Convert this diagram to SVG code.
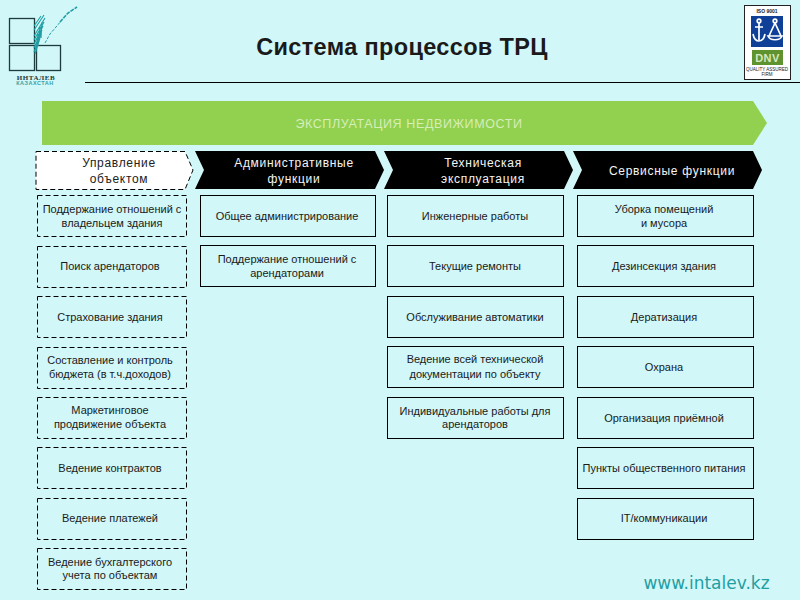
<svg xmlns="http://www.w3.org/2000/svg" width="800" height="600" viewBox="0 0 800 600">
<style>
text{font-family:"Liberation Sans",Arial,sans-serif;text-anchor:middle;fill:#1a1a1a}
.b{fill:none;stroke:#000;stroke-width:1}
.d{fill:none;stroke:#000;stroke-width:1;stroke-dasharray:5 3}
.t{font-size:11px}
.h{font-size:12px;letter-spacing:.7px;fill:#f4f4f4}
.k{fill:#000}
</style>
<rect width="800" height="600" fill="#d1f7f9"/>
<g id="logo">
<g fill="none" stroke="#1d3a3c" stroke-width="1.300"><rect x="9.500" y="18.500" width="25" height="25"/><rect x="9.500" y="45.500" width="25" height="25"/><rect x="36.500" y="45.500" width="24" height="25"/></g>
<g fill="none" stroke="#1f9ea3" stroke-width="1.100"><path d="M34 30L44 15M34 36L45 18M34 40L44 22M34 44L43 26M34 48L42 30M34 52L41 34M35 54L40 38M34 26L41 16M36 52L38 34M38 46L40 26M41 38L42 22"/></g>
<path d="M45 43L50 34L56 27L62 20" fill="none" stroke="#1f9ea3" stroke-width="1" stroke-dasharray="3 1.500"/>
<path d="M60 22L68 13L77 7" fill="none" stroke="#1f9ea3" stroke-width="1.600" stroke-dasharray="4 1"/>
<text x="36" y="79.500" style="font-family:'Liberation Serif',serif;font-size:7px;font-weight:bold;letter-spacing:.5px;fill:#1d3a3c">ИНТАЛЕВ</text>
<text x="35" y="85" style="font-size:5.500px;font-weight:bold;letter-spacing:.5px;fill:#3a9ea3">КАЗАХСТАН</text>
</g>
<g id="cert">
<rect x="744.500" y="5.500" width="46" height="74" fill="#fff" stroke="#222" stroke-width="1"/>
<text x="767" y="13" style="font-size:5px;font-weight:bold">ISO 9001</text>
<rect x="751" y="16" width="32" height="31" fill="#0f3f97"/>
<g fill="none" stroke="#fff" stroke-width="1.700"><circle cx="759" cy="21" r="1.800"/><path d="M759 23V40M755 27H763M753 34C754 39 756 41 759 41C762 41 764 39 765 34"/><circle cx="775" cy="21" r="1.800"/><path d="M775 23L769 36M775 23L781 36M768 36C770 41 780 41 782 36Z"/></g>
<rect x="752" y="50" width="31" height="15" fill="#5f9330"/>
<text x="767.500" y="62" style="font-size:11px;font-weight:bold;letter-spacing:.5px;fill:#d8e8c0">DNV</text>
<text x="767" y="71" style="font-size:4.500px">QUALITY ASSURED</text>
<text x="767" y="76" style="font-size:4.500px">FIRM</text>
</g>
<g id="title"><text x="402" y="54.500" style="font-size:23.500px;font-weight:bold;letter-spacing:.35px">Система процессов ТРЦ</text></g>
<line x1="85" y1="82.500" x2="800" y2="82.500" stroke="#000" stroke-width="1"/>
<g id="band"><polygon points="42,101 753,101 767,123 753,145 42,145" fill="#92d050"/><text x="409" y="128" style="font-size:12.500px;letter-spacing:.6px;fill:#d6eeb8">ЭКСПЛУАТАЦИЯ НЕДВИЖИМОСТИ</text></g>
<g id="h1"><polygon points="36,151.500 185,151.500 193,170 185,189.500 36,189.500" fill="#fff" stroke="#000" stroke-dasharray="5 3"/><text class="h" x="119" y="167" style="fill:#222">Управление</text><text class="h" x="119" y="183" style="fill:#222">объектом</text></g>
<g id="h2"><polygon class="k" points="195,151 375,151 384,170 375,189 195,189 204,170"/><text class="h" x="294" y="167">Административные</text><text class="h" x="294" y="183">функции</text></g>
<g id="h3"><polygon class="k" points="384,151 564,151 573,170 564,189 384,189 393,170"/><text class="h" x="483" y="167">Техническая</text><text class="h" x="483" y="183">эксплуатация</text></g>
<g id="h4"><polygon class="k" points="573,151 753,151 762,170 753,189 573,189 582,170"/><text class="h" x="672" y="175">Сервисные функции</text></g>
<g id="a1"><rect class="d" x="37.500" y="195.500" width="149" height="41"/><text class="t" x="112" y="213">Поддержание отношений с</text><text class="t" x="112" y="227">владельцем здания</text></g>
<g id="a2"><rect class="d" x="37.500" y="246.500" width="149" height="41"/><text class="t" x="110" y="270">Поиск арендаторов</text></g>
<g id="a3"><rect class="d" x="37.500" y="296.500" width="149" height="41"/><text class="t" x="110" y="321">Страхование здания</text></g>
<g id="a4"><rect class="d" x="37.500" y="347.500" width="149" height="41"/><text class="t" x="110" y="364">Составление и контроль</text><text class="t" x="110" y="378">бюджета (в т.ч.доходов)</text></g>
<g id="a5"><rect class="d" x="37.500" y="397.500" width="149" height="41"/><text class="t" x="110" y="414">Маркетинговое</text><text class="t" x="110" y="428">продвижение объекта</text></g>
<g id="a6"><rect class="d" x="37.500" y="447.500" width="149" height="41"/><text class="t" x="110" y="472">Ведение контрактов</text></g>
<g id="a7"><rect class="d" x="37.500" y="498.500" width="149" height="41"/><text class="t" x="110" y="522">Ведение платежей</text></g>
<g id="a8"><rect class="d" x="37.500" y="548.500" width="149" height="41"/><text class="t" x="110" y="566">Ведение бухгалтерского</text><text class="t" x="110" y="579">учета по объектам</text></g>
<g id="b1"><rect class="b" x="200.500" y="195.500" width="175" height="41"/><text class="t" x="287" y="220">Общее администрирование</text></g>
<g id="b2"><rect class="b" x="200.500" y="245.500" width="175" height="41"/><text class="t" x="287" y="263">Поддержание отношений с</text><text class="t" x="287" y="277">арендаторами</text></g>
<g id="c1"><rect class="b" x="387.500" y="195.500" width="176" height="41"/><text class="t" x="475" y="220">Инженерные работы</text></g>
<g id="c2"><rect class="b" x="387.500" y="245.500" width="176" height="41"/><text class="t" x="475" y="270">Текущие ремонты</text></g>
<g id="c3"><rect class="b" x="387.500" y="296.500" width="176" height="41"/><text class="t" x="475" y="321">Обслуживание автоматики</text></g>
<g id="c4"><rect class="b" x="387.500" y="346.500" width="176" height="41"/><text class="t" x="475" y="363">Ведение всей технической</text><text class="t" x="475" y="378">документации по объекту</text></g>
<g id="c5"><rect class="b" x="387.500" y="397.500" width="176" height="41"/><text class="t" x="475" y="415">Индивидуальные работы для</text><text class="t" x="475" y="428">арендаторов</text></g>
<g id="d1"><rect class="b" x="577.500" y="195.500" width="176" height="41"/><text class="t" x="664" y="213">Уборка помещений</text><text class="t" x="664" y="227">и мусора</text></g>
<g id="d2"><rect class="b" x="577.500" y="245.500" width="176" height="41"/><text class="t" x="664" y="270">Дезинсекция здания</text></g>
<g id="d3"><rect class="b" x="577.500" y="296.500" width="176" height="41"/><text class="t" x="664" y="321">Дератизация</text></g>
<g id="d4"><rect class="b" x="577.500" y="346.500" width="176" height="41"/><text class="t" x="664" y="371">Охрана</text></g>
<g id="d5"><rect class="b" x="577.500" y="397.500" width="176" height="41"/><text class="t" x="664" y="422">Организация приёмной</text></g>
<g id="d6"><rect class="b" x="577.500" y="447.500" width="176" height="41"/><text class="t" x="664" y="472">Пункты общественного питания</text></g>
<g id="d7"><rect class="b" x="577.500" y="498.500" width="176" height="41"/><text class="t" x="664" y="522">IT/коммуникации</text></g>
<g id="url"><text x="706.500" y="589" style="font-family:'DejaVu Sans',sans-serif;font-size:17px;fill:#1f9ea3">www.intalev.kz</text></g>
</svg>
